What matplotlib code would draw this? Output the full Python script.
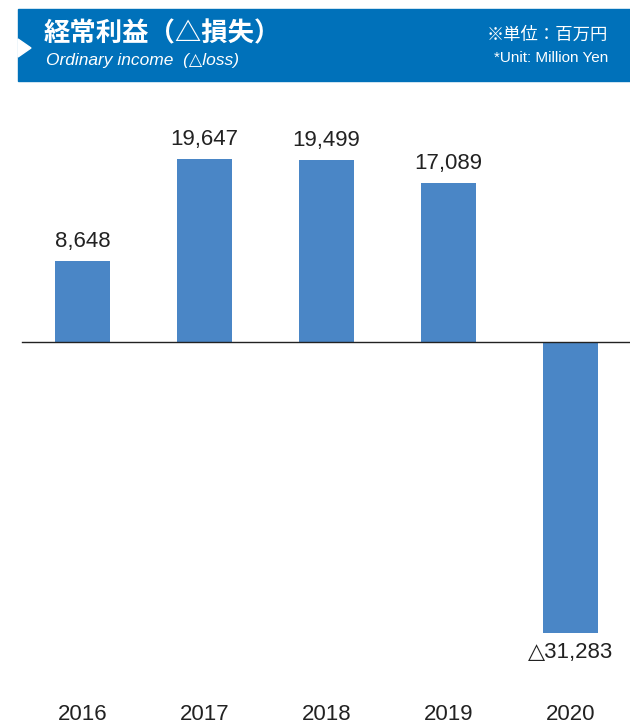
import matplotlib.pyplot as plt
from matplotlib.patches import Rectangle, Polygon

years = ['2016', '2017', '2018', '2019', '2020']
values = [8648, 19647, 19499, 17089, -31283]
labels = ['8,648', '19,647', '19,499', '17,089', '△31,283']

W, H = 630, 728
fig = plt.figure(figsize=(W / 100, H / 100), dpi=100)

# pixel helpers
px_per_unit = 183 / 19647
zero_px = 342
x0_px, step_px = 82.5, 122

ax = fig.add_axes([0, 0, 1, 1])
ax.set_xlim(-x0_px / step_px, (W - x0_px) / step_px)
ax.set_ylim(-(H - zero_px) / px_per_unit, zero_px / px_per_unit)
ax.axis('off')

bar_color = '#4A86C6'
ax.bar(range(len(values)), values, width=0.45, color=bar_color, zorder=2)
ax.axhline(0, xmin=22 / W, xmax=1, color='#222222', lw=1.0, zorder=3)

num_font = ['Liberation Sans', 'DejaVu Sans']
for i, (v, lab) in enumerate(zip(values, labels)):
    off = 9 / px_per_unit
    if v >= 0:
        ax.text(i, v + off, lab, ha='center', va='bottom', fontsize=16,
                color='#222222', family=num_font)
    else:
        ax.text(i, v - off, lab, ha='center', va='top', fontsize=16,
                color='#222222', family=num_font)

for i, y in enumerate(years):
    ax.text(i, -(715 - zero_px) / px_per_unit, y, ha='center', va='center',
            fontsize=16, color='#222222', family=num_font)

# header banner
def fy(p):
    return 1 - p / H

fig.patches.append(Rectangle((18 / W, fy(81)), 1 - 18 / W, 72 / H,
                             transform=fig.transFigure, color='#0071BA', zorder=0))
fig.patches.append(Polygon([(18 / W, fy(39)), (18 / W, fy(57)), (31 / W, fy(48))],
                           closed=True, transform=fig.transFigure,
                           color='white', zorder=1))

jp_font = ['Noto Sans CJK JP', 'DejaVu Sans']
fig.text(44 / W, fy(34), '経常利益（△損失）', color='white', fontsize=19,
         fontweight='bold', family=jp_font, va='center', ha='left')
fig.text(46 / W, fy(61), 'Ordinary income  (△loss)', color='white', fontsize=12.5,
         style='italic', family=num_font, va='center', ha='left')
fig.text(608 / W, fy(35), '※単位：百万円', color='white', fontsize=12.5,
         family=jp_font, va='center', ha='right')
fig.text(608 / W, fy(58), '*Unit: Million Yen', color='white', fontsize=11,
         family=num_font, va='center', ha='right')

fig.savefig('out.png', dpi=100)
